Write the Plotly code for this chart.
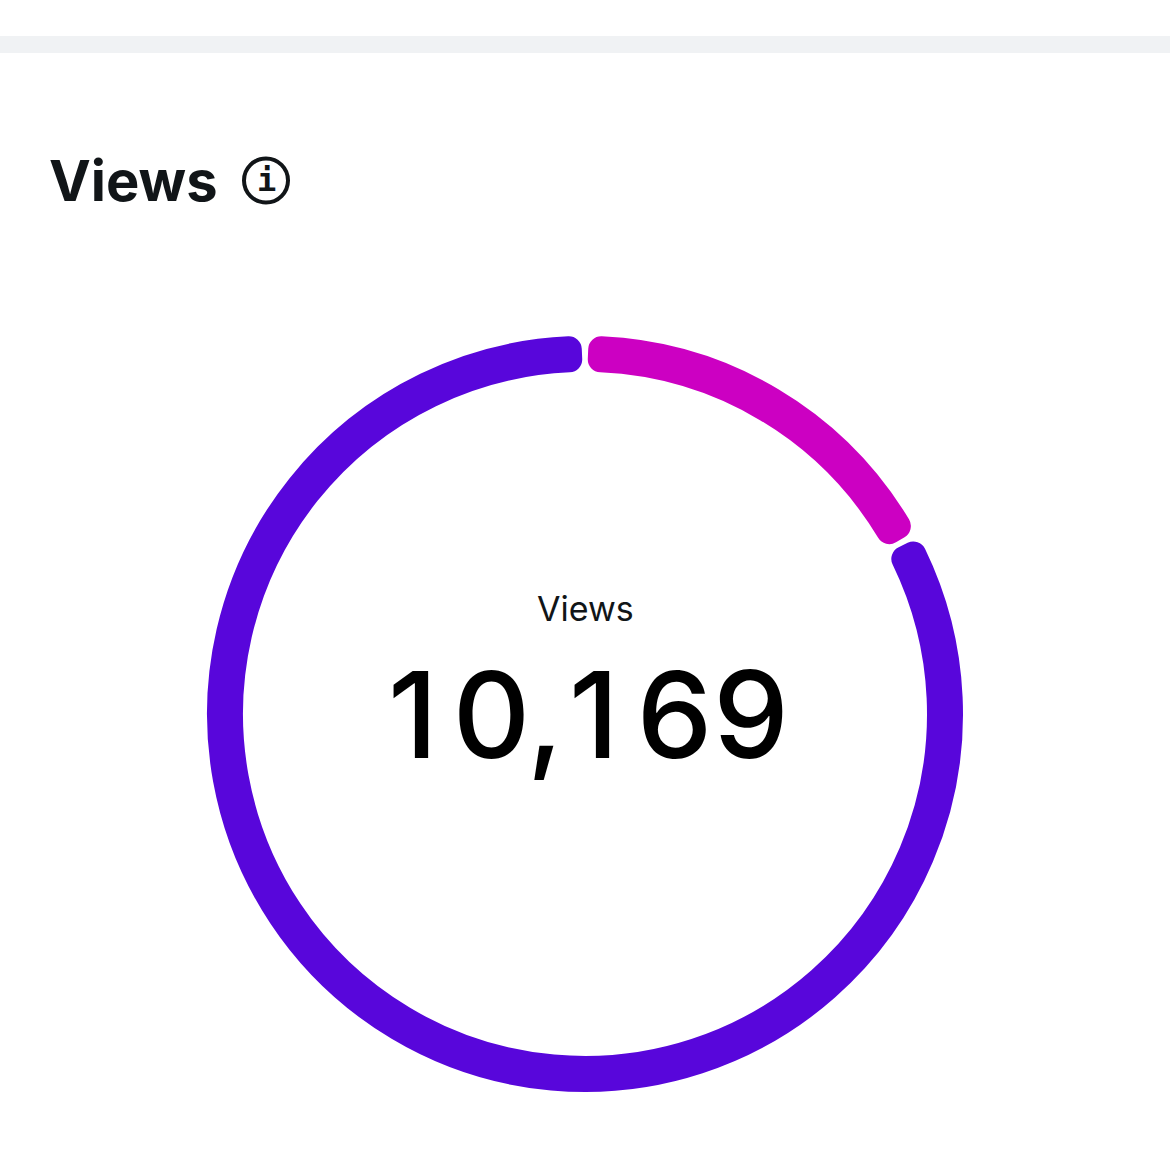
import plotly.graph_objects as go

W = H = 1170
categories = ["Followers", "Non-followers"]
views = [1641, 8528]
total_label = "10,169"
title_text = "Views"
center_label = "Views"
info_glyph = "i"
colors = ["#CC00C2", "#5806DB"]

CX, CY = 585, 714
R_OUT, R_IN, CORNER = 378, 342, 13
GAP_SHARE = 0.01456


def px(x):
    return x / W


def py(y):
    return 1 - y / H


r = R_OUT - CORNER
spacer = sum(views) * GAP_SHARE
values = [views[0], spacer, views[1], spacer]
labels = [categories[0], " ", categories[1], "  "]
slice_colors = [colors[0], "rgba(0,0,0,0)", colors[1], "rgba(0,0,0,0)"]
line_widths = [CORNER * 2, 0, CORNER * 2, 0]
rotation = spacer / (sum(views) + 2 * spacer) * 180

fig = go.Figure(
    go.Pie(
        labels=labels,
        values=values,
        sort=False,
        direction="clockwise",
        rotation=rotation,
        hole=(R_IN + CORNER) / r,
        textinfo="none",
        hoverinfo="skip",
        showlegend=False,
        marker=dict(colors=slice_colors, line=dict(color=[colors[0], "rgba(0,0,0,0)", colors[1], "rgba(0,0,0,0)"], width=line_widths)),
        domain=dict(x=[px(CX - r), px(CX + r)], y=[py(CY + r), py(CY - r)]),
    )
)

INK = "#111518"
fig.update_layout(
    width=W,
    height=H,
    autosize=False,
    margin=dict(l=0, r=0, t=0, b=0),
    paper_bgcolor="#FFFFFF",
    plot_bgcolor="#FFFFFF",
    shapes=[
        dict(type="rect", xref="paper", yref="paper", x0=0, x1=1, y0=py(53), y1=py(36),
             fillcolor="#F0F2F4", line_width=0, layer="below"),
        dict(type="circle", xref="paper", yref="paper", x0=px(244), x1=px(288), y0=py(202.5), y1=py(158.5),
             fillcolor="rgba(0,0,0,0)", line=dict(color=INK, width=4)),
    ],
    annotations=[
        dict(text=title_text, xref="paper", yref="paper", x=px(47), y=py(181), xanchor="left", yanchor="middle",
             showarrow=False, font=dict(family="Inter", size=56, color=INK, weight=700)),
        dict(text=info_glyph, xref="paper", yref="paper", x=px(266), y=py(180), xanchor="center", yanchor="middle",
             showarrow=False, font=dict(family="DejaVu Sans Mono", size=32, color=INK, weight=700)),
        dict(text=center_label, xref="paper", yref="paper", x=px(585), y=py(608), xanchor="center", yanchor="middle",
             showarrow=False, font=dict(family="Inter", size=34, color=INK, weight=400)),
        dict(text=total_label, xref="paper", yref="paper", x=px(588.5), y=py(714), xanchor="center", yanchor="middle",
             showarrow=False, font=dict(family="Inter", size=120, color="#000000", weight=500)),
    ],
)

post = """
document.body.style.margin = '0';
document.querySelectorAll('.slice path.surface').forEach(function (p) {
  p.style.strokeLinejoin = 'round';
});
document.querySelectorAll('.annotation-text').forEach(function (t) {
  if (t.textContent.indexOf(',') >= 0) {
    t.setAttribute('dx', '0 15 0 16 18 1');
  }
});
"""
fig.write_html("out.html", post_script=post, config=dict(displayModeBar=False))
